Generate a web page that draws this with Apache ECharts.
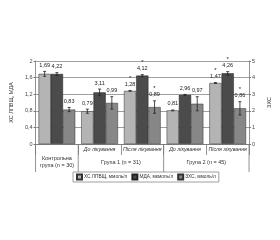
<!DOCTYPE html>
<html>
<head>
<meta charset="utf-8">
<script src="https://cdn.jsdelivr.net/npm/echarts@6/dist/echarts.min.js"></script>
<style>
  html, body { margin: 0; padding: 0; background: #fff; }
  #container { width: 280px; height: 240px; }
</style>
</head>
<body>
<div id="container"></div>
<script>
// дані
var categories = ['Контрольна', 'Гр1 до', 'Гр1 після', 'Гр2 до', 'Гр2 після'];
var stageLabels = ['', 'До лікування', 'Після лікування', 'До лікування', 'Після лікування'];
var seriesNames = ['ХС ЛПВЩ, ммоль/л', 'МДА, мкмоль/л', 'ЗХС, ммоль/л'];
var hdlValues = [1.69, 0.79, 1.28, 0.81, 1.47];
var mdaValues = [4.22, 3.11, 4.12, 2.96, 4.26];
var tchValues = [0.83, 0.99, 0.89, 0.97, 0.86];
var hdlErr = [0.06, 0.05, 0.01, 0.01, 0.01];
var mdaErr = [0.08, 0.2, 0.06, 0.03, 0.1];
var tchErr = [0.05, 0.15, 0.15, 0.17, 0.16];
var hdlStar = [0, 0, 1, 0, 1];
var mdaStar = [0, 0, 1, 0, 1];
var tchStar = [0, 0, 1, 0, 1];
var leftTicks = [0, 0.4, 0.8, 1.2, 1.6, 2];
var rightTicks = [0, 1, 2, 3, 4, 5];

var colors = ['#b4b4b4', '#4b4b4b', '#878787'];
var font = 'Liberation Sans';
var catGap = 0.14;

var myChart = echarts.init(document.getElementById('container'));

function errData(vals, errs, stars) {
    return vals.map(function (v, i) { return [i, v, errs[i], stars[i]]; });
}

// планка похибки + підпис + зірочка
function makeRender(idx) {
    return function (params, api) {
        var cat = api.value(0), v = api.value(1), e = api.value(2), star = api.value(3);
        var band = api.size([1, 0])[0];
        var bw = band * (1 - catGap) / 3;
        var c = api.coord([cat, v]);
        var x = c[0] + (idx - 1) * bw;
        var top = api.coord([cat, v + e])[1];
        var bot = api.coord([cat, v - e])[1];
        var st = { stroke: '#222', lineWidth: 0.8 };
        var kids = [
            { type: 'line', shape: { x1: x, y1: top, x2: x, y2: bot }, style: st },
            { type: 'line', shape: { x1: x - 1.5, y1: top, x2: x + 1.5, y2: top }, style: st },
            { type: 'line', shape: { x1: x - 1.5, y1: bot, x2: x + 1.5, y2: bot }, style: st },
            { type: 'text', style: { x: x, y: top - 3, text: String(v.toFixed(2)).replace('.', ','),
                align: 'center', verticalAlign: 'bottom', fontSize: 5.5, fontFamily: font, fill: '#222' } }
        ];
        if (star) {
            kids.push({ type: 'text', style: { x: x, y: top - 9.5, text: '*', align: 'center',
                verticalAlign: 'bottom', fontSize: 6, fontFamily: font, fill: '#222' } });
        }
        return { type: 'group', children: kids };
    };
}

var option = {
    animation: false,
    grid: { left: 21, right: 16, top: 61, bottom: 96 },
    legend: {
        data: seriesNames,
        left: 73, top: 172,
        orient: 'horizontal',
        itemWidth: 5, itemHeight: 5, itemGap: 4,
        padding: [1.5, 3],
        borderColor: '#888', borderWidth: 0.8,
        icon: 'rect',
        textStyle: { fontSize: 4.8, fontFamily: font, color: '#333', padding: [0, 0, 0, -3] }
    },
    xAxis: [{
        type: 'category',
        data: categories,
        axisLine: { lineStyle: { color: '#777', width: 0.8 } },
        axisTick: { show: true, length: 11, lineStyle: { color: '#777', width: 0.8 } },
        axisLabel: {
            interval: 0,
            margin: 3, fontSize: 5.3, fontFamily: font, color: '#333', fontStyle: 'italic',
            formatter: function (val, i) { return stageLabels[i]; }
        },
        splitLine: { show: false }
    }],
    yAxis: [{
        type: 'value', min: 0, max: 2, interval: 0.4,
        name: 'ХС ЛПВЩ, МДА', nameLocation: 'middle', nameGap: 12,
        nameTextStyle: { fontSize: 5.5, fontFamily: font, color: '#333' },
        axisLine: { show: true, lineStyle: { color: '#777', width: 0.8 } },
        axisTick: { show: true, length: 2, lineStyle: { color: '#777' } },
        axisLabel: { fontSize: 5.5, fontFamily: font, color: '#444', margin: 3,
            formatter: function (v) { return leftTicks.indexOf(v) >= 0 ? String(+v.toFixed(1)).replace('.', ',') : ''; } },
        splitLine: { show: true, lineStyle: { color: '#888', width: 0.8 } }
    }, {
        type: 'value', min: 0, max: 5, interval: 1,
        name: 'ЗХС', nameLocation: 'middle', nameGap: 9,
        nameTextStyle: { fontSize: 5.5, fontFamily: font, color: '#333' },
        axisLine: { show: true, lineStyle: { color: '#777', width: 0.8 } },
        axisTick: { show: true, length: 2, lineStyle: { color: '#777' } },
        axisLabel: { fontSize: 5.5, fontFamily: font, color: '#444', margin: 3,
            formatter: function (v) { return rightTicks.indexOf(v) >= 0 ? String(v) : ''; } },
        splitLine: { show: false }
    }],
    series: [
        { name: seriesNames[0], type: 'bar', yAxisIndex: 0, data: hdlValues,
          barGap: '0%', barCategoryGap: (catGap * 100) + '%',
          itemStyle: { color: colors[0], borderColor: '#333', borderWidth: 0.5 } },
        { name: seriesNames[1], type: 'bar', yAxisIndex: 1, data: mdaValues,
          itemStyle: { color: colors[1], borderColor: '#222', borderWidth: 0.5 } },
        { name: seriesNames[2], type: 'bar', yAxisIndex: 0, data: tchValues,
          itemStyle: { color: colors[2], borderColor: '#333', borderWidth: 0.5 } },
        { type: 'custom', yAxisIndex: 0, data: errData(hdlValues, hdlErr, hdlStar),
          renderItem: makeRender(0), encode: { x: 0, y: 1 }, z: 5, silent: true },
        { type: 'custom', yAxisIndex: 1, data: errData(mdaValues, mdaErr, mdaStar),
          renderItem: makeRender(1), encode: { x: 0, y: 1 }, z: 5, silent: true },
        { type: 'custom', yAxisIndex: 0, data: errData(tchValues, tchErr, tchStar),
          renderItem: makeRender(2), encode: { x: 0, y: 1 }, z: 5, silent: true }
    ]
};
myChart.setOption(option);

// другий рівень підписів осі X
function groupLabels() {
    var c0 = myChart.convertToPixel({ xAxisIndex: 0 }, 0);
    var c1 = myChart.convertToPixel({ xAxisIndex: 0 }, 1);
    var band = c1 - c0;
    var edge = function (k) { return c0 - band / 2 + k * band; };
    var y0 = myChart.convertToPixel({ yAxisIndex: 0 }, 0);
    var els = [];
    [0, 1, 3, 5].forEach(function (k) {
        els.push({ type: 'line', shape: { x1: edge(k), y1: y0, x2: edge(k), y2: y0 + 28 },
            style: { stroke: '#777', lineWidth: 0.8 } });
    });
    var txt = [
        { x: (edge(0) + edge(1)) / 2, text: 'Контрольна\nгрупа (n = 30)' },
        { x: (edge(1) + edge(3)) / 2, text: 'Група 1 (n = 31)' },
        { x: (edge(3) + edge(5)) / 2, text: 'Група 2 (n = 45)' }
    ];
    txt.forEach(function (t) {
        els.push({ type: 'text', style: { x: t.x, y: y0 + 18, text: t.text, align: 'center',
            verticalAlign: 'middle', fontSize: 5.5, lineHeight: 7, fontFamily: font, fill: '#333' } });
    });
    myChart.setOption({ graphic: els });
}
groupLabels();
</script>
</body>
</html>
